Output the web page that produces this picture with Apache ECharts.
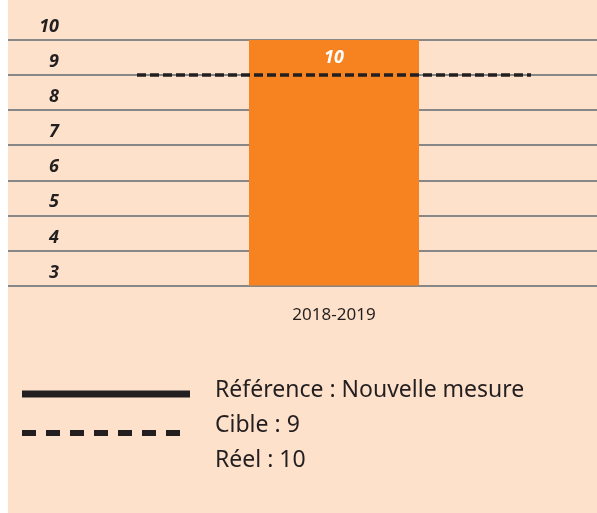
<!DOCTYPE html>
<html>
<head>
<meta charset="utf-8">
<script src="https://cdn.jsdelivr.net/npm/echarts@6/dist/echarts.min.js"></script>
<style>
html,body{margin:0;padding:0;background:#ffffff;}
#chart{position:absolute;left:8px;top:0;width:589px;height:513px;}
</style>
</head>
<body>
<div id="chart"></div>
<script>
// ---- data ----
const categories = ['2018-2019'];
const actualValues = [10];
const targetValue = 9;
const yMin = 3;
const yMax = 10;
const yInterval = 1;
const referenceText = 'Référence : Nouvelle mesure';
const targetLabel = 'Cible';
const actualLabel = 'Réel';

// ---- styles ----
const peach = '#FEE1CA';
const orange = '#F68220';
const ink = '#231F20';
const gridGrey = '#878787';
const font = 'Noto Sans';

const chart = echarts.init(document.getElementById('chart'), null, {renderer: 'canvas'});

const gridTop = 40, gridBottom = 227.5;

const option = {
  backgroundColor: peach,
  animation: false,
  grid: [
    {left: 0, right: 0, top: gridTop, bottom: gridBottom, containLabel: false},
    {left: 129, right: 66, top: gridTop, bottom: gridBottom, containLabel: false}
  ],
  xAxis: [
    {gridIndex: 0, type: 'category', data: categories, show: false},
    {
      gridIndex: 1, type: 'category', data: categories,
      axisLine: {show: false}, axisTick: {show: false},
      axisLabel: {margin: 21, fontSize: 17, color: ink, fontFamily: font}
    }
  ],
  yAxis: [
    {
      gridIndex: 0, type: 'value', min: yMin, max: yMax, interval: yInterval,
      axisLine: {show: false}, axisTick: {show: false},
      splitLine: {show: true, lineStyle: {color: gridGrey, width: 2}},
      axisLabel: {
        inside: true, margin: 51, align: 'right', verticalAlign: 'bottom',
        padding: [0, 0, 4, 0],
        fontSize: 18, fontStyle: 'italic', fontWeight: 'bold', color: ink, fontFamily: font
      }
    },
    {
      gridIndex: 1, type: 'value', min: yMin, max: yMax, interval: yInterval,
      show: false, splitLine: {show: false}
    }
  ],
  series: [
    {
      type: 'bar', xAxisIndex: 1, yAxisIndex: 1,
      data: actualValues, barWidth: 170,
      itemStyle: {color: orange},
      label: {
        show: true, position: 'insideTop', distance: 9,
        color: '#ffffff', fontSize: 18, fontStyle: 'italic', fontWeight: 'bold', fontFamily: font
      },
      markLine: {
        silent: true, symbol: ['none', 'none'],
        label: {show: false},
        lineStyle: {color: ink, type: [9, 4], width: 3.5},
        data: [{yAxis: targetValue}]
      },
      z: 2
    }
  ],
  graphic: [
    {type: 'line', shape: {x1: 14, y1: 394, x2: 182, y2: 394}, style: {stroke: ink, lineWidth: 7}},
    {type: 'line', shape: {x1: 14, y1: 433, x2: 182, y2: 433}, style: {stroke: ink, lineWidth: 6, lineDash: [14, 10]}},
    {type: 'text', left: 207, top: 379, style: {text: referenceText, fontSize: 23, fill: ink, fontFamily: font}},
    {type: 'text', left: 207, top: 414, style: {text: targetLabel + ' : ' + targetValue, fontSize: 23, fill: ink, fontFamily: font}},
    {type: 'text', left: 207, top: 449, style: {text: actualLabel + ' : ' + actualValues[0], fontSize: 23, fill: ink, fontFamily: font}}
  ]
};
chart.setOption(option);
</script>
</body>
</html>
